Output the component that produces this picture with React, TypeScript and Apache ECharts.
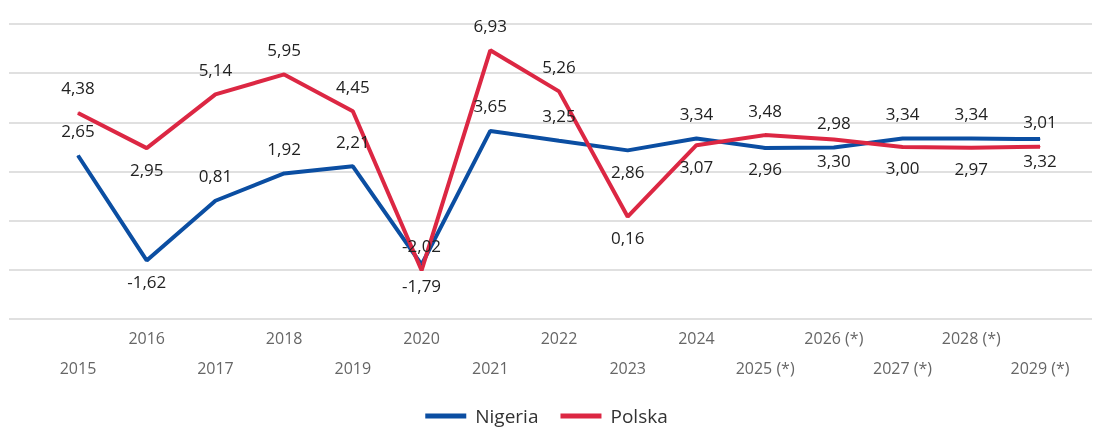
import React, { useEffect, useRef } from "react";
import * as echarts from "echarts";

const years = ["2015", "2016", "2017", "2018", "2019", "2020", "2021", "2022", "2023", "2024", "2025 (*)", "2026 (*)", "2027 (*)", "2028 (*)", "2029 (*)"];
const nigeria = [2.65, -1.62, 0.81, 1.92, 2.21, -1.79, 3.65, 3.25, 2.86, 3.34, 2.96, 2.98, 3.34, 3.34, 3.32];
const polska = [4.38, 2.95, 5.14, 5.95, 4.45, -2.02, 6.93, 5.26, 0.16, 3.07, 3.48, 3.30, 3.00, 2.97, 3.01];
const nigeriaLabelPos = ["top", "bottom", "top", "top", "top", "bottom", "top", "top", "bottom", "top", "bottom", "top", "top", "top", "bottom"];
const polskaLabelPos = ["top", "bottom", "top", "top", "top", "top", "top", "top", "bottom", "bottom", "top", "bottom", "bottom", "bottom", "top"];

const FONT = "'Open Sans', 'Noto Sans', sans-serif";
const BLUE = "#0b4ea2";
const RED = "#dc2743";

function fmt(v: number) {
  return v.toFixed(2).replace(".", ",");
}

function buildData(values: number[], pos: string[]) {
  return values.map((v, i) => ({
    value: v,
    label: { position: pos[i], distance: pos[i] === "top" ? 16 : 12 },
  }));
}

export default function App() {
  const ref = useRef<HTMLDivElement>(null);
  useEffect(() => {
    if (!ref.current) return;
    const chart = echarts.init(ref.current, null, { renderer: "svg" });
    const yCommon = { type: "value", min: -4, max: 8, interval: 2 };
    chart.setOption({
      animation: false,
      textStyle: { fontFamily: FONT },
      grid: [
        { left: 9, right: 1, top: 24, bottom: 111, containLabel: false },
        { left: 78, right: 53, top: 24, bottom: 111, containLabel: false },
      ],
      xAxis: [
        { type: "category", gridIndex: 0, data: years, show: false },
        {
          type: "category",
          gridIndex: 1,
          data: years,
          boundaryGap: false,
          axisLine: { show: false },
          axisTick: { show: false },
          axisLabel: {
            interval: 0,
            margin: 4,
            color: "#666",
            fontSize: 16,
            fontFamily: FONT,
            lineHeight: 30,
            formatter: (v: string, i: number) => (i % 2 === 0 ? "\n" + v : v),
          },
        },
      ],
      yAxis: [
        {
          ...yCommon,
          gridIndex: 0,
          axisLine: { show: false },
          axisTick: { show: false },
          axisLabel: { show: false },
          splitLine: { show: true, lineStyle: { color: "#e0e0e0", width: 2 } },
        },
        {
          ...yCommon,
          gridIndex: 1,
          show: false,
          splitLine: { show: false },
        },
      ],
      legend: {
        bottom: 4,
        left: "center",
        icon: "rect",
        itemWidth: 41,
        itemHeight: 5,
        itemGap: 22,
        padding: 0,
        textStyle: { fontSize: 19, lineHeight: 20, color: "#333", fontFamily: FONT, padding: [0, 0, 0, 4] },
        data: ["Nigeria", "Polska"],
      },
      series: [
        {
          name: "Nigeria",
          type: "line",
          xAxisIndex: 1,
          yAxisIndex: 1,
          data: buildData(nigeria, nigeriaLabelPos),
          symbol: "circle",
          symbolSize: 1,
          color: BLUE,
          lineStyle: { color: BLUE, width: 4 },
          label: {
            show: true,
            color: "#222",
            fontSize: 17,
            fontFamily: FONT,
            formatter: (p: any) => fmt(p.value),
          },
        },
        {
          name: "Polska",
          type: "line",
          xAxisIndex: 1,
          yAxisIndex: 1,
          data: buildData(polska, polskaLabelPos),
          symbol: "circle",
          symbolSize: 1,
          color: RED,
          lineStyle: { color: RED, width: 4 },
          label: {
            show: true,
            color: "#222",
            fontSize: 17,
            fontFamily: FONT,
            formatter: (p: any) => fmt(p.value),
          },
        },
      ],
    });
    return () => chart.dispose();
  }, []);
  return (
    <div
      ref={ref}
      style={{ position: "fixed", left: 0, top: 0, width: 1093, height: 430 }}
    />
  );
}
